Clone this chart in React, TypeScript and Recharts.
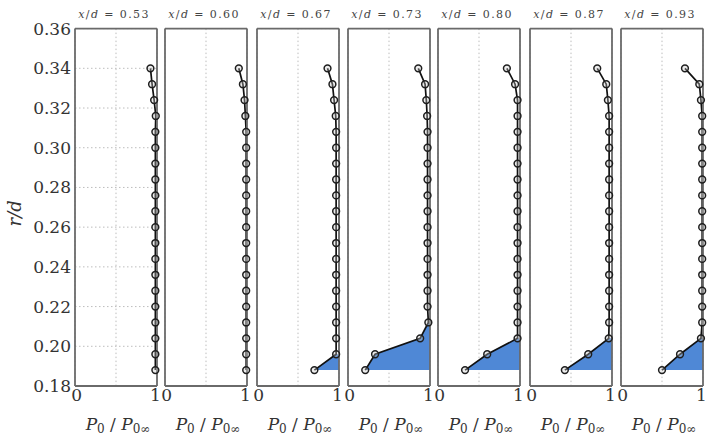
import { ComposedChart, Line, Area, XAxis, YAxis, CartesianGrid, ReferenceLine, Label } from "recharts";

// r/d stations of the probe (bottom to top)
const radius = [0.188, 0.196, 0.204, 0.212, 0.22, 0.228, 0.236, 0.244, 0.252, 0.26, 0.268, 0.276, 0.284, 0.292, 0.3, 0.308, 0.316, 0.324, 0.332, 0.34];

const stations = ["0.53", "0.60", "0.67", "0.73", "0.80", "0.87", "0.93"];

// P0/P0inf at each radius, one list per x/d station
const p053 = [0.98, 0.98, 0.98, 0.98, 0.98, 0.98, 0.98, 0.98, 0.98, 0.98, 0.98, 0.98, 0.98, 0.98, 0.98, 0.98, 0.985, 0.965, 0.94, 0.92];
const p060 = [0.99, 0.99, 0.99, 0.99, 0.99, 0.99, 0.99, 0.99, 0.99, 0.99, 0.99, 0.99, 0.99, 0.99, 0.99, 0.99, 0.98, 0.97, 0.95, 0.9];
const p067 = [0.7, 0.965, 0.965, 0.965, 0.965, 0.965, 0.965, 0.965, 0.965, 0.965, 0.965, 0.965, 0.965, 0.965, 0.965, 0.965, 0.96, 0.94, 0.92, 0.86];
const p073 = [0.21, 0.33, 0.88, 0.98, 0.97, 0.97, 0.97, 0.97, 0.97, 0.97, 0.97, 0.97, 0.97, 0.97, 0.97, 0.97, 0.965, 0.955, 0.94, 0.857];
const p080 = [0.33, 0.6, 0.97, 0.97, 0.97, 0.97, 0.97, 0.97, 0.97, 0.97, 0.97, 0.97, 0.97, 0.97, 0.97, 0.97, 0.97, 0.97, 0.94, 0.84];
const p087 = [0.425, 0.71, 0.96, 0.965, 0.965, 0.965, 0.965, 0.965, 0.965, 0.965, 0.965, 0.965, 0.965, 0.965, 0.965, 0.965, 0.965, 0.95, 0.93, 0.82];
const p093 = [0.5, 0.72, 0.975, 0.99, 0.99, 0.99, 0.99, 0.99, 0.99, 0.99, 0.99, 0.99, 0.99, 0.99, 0.99, 0.99, 0.99, 0.975, 0.955, 0.78];

const profiles = [p053, p060, p067, p073, p080, p087, p093];

// how many of the lowest points belong to the shaded deficit region
const deficitPoints = [0, 0, 2, 4, 3, 3, 3];

const rTicks = [0.18, 0.2, 0.22, 0.24, 0.26, 0.28, 0.3, 0.32, 0.34, 0.36];
const pTicks = [0, 0.5, 1];

// layout
const panelLeft = [74.7, 164.5, 257, 347.5, 438.3, 530.3, 620.7];
const PW = 82;
const TOP = 28.6;
const BOTTOM = 386;
const YW = 74;
const XH = 30;
const PADR = 20;
const H = 437;

const FONT = "'DejaVu Serif', serif";
const AXIS = "#6a6a6a";

function PTick(props: any) {
  const { x, y, payload } = props;
  const v = payload.value;
  if (v !== 0 && v !== 1) return null;
  const tx = v === 0 ? x - 3.8 : x + 3.8;
  return (
    <text x={tx} y={y + 13} textAnchor={v === 0 ? "start" : "end"} fontFamily={FONT} fontSize={17} fill="#333">
      {String(v)}
    </text>
  );
}

function PLabel(props: any) {
  const vb = props.viewBox;
  return (
    <text x={vb.x + vb.width / 2 + 2} y={vb.y + 44} textAnchor="middle" fontFamily={FONT} fontSize={17} fill="#333">
      <tspan fontStyle="italic">P</tspan>
      <tspan fontSize={12} dy={3}>0</tspan>
      <tspan dy={-3}> / </tspan>
      <tspan fontStyle="italic">P</tspan>
      <tspan fontSize={12} dy={3}>0∞</tspan>
    </text>
  );
}

function RLabel(props: any) {
  const vb = props.viewBox;
  const cx = 20;
  const cy = vb.y + vb.height / 2 + 6;
  return (
    <text x={cx} y={cy} textAnchor="middle" fontFamily={FONT} fontSize={18} fontStyle="italic" fill="#333" transform={`rotate(-90 ${cx} ${cy})`}>
      r/d
    </text>
  );
}

function makeTitle(s: string) {
  return (props: any) => {
    const vb = props.viewBox;
    return (
      <text x={vb.x + vb.width / 2 - 2} y={vb.y - 11} textAnchor="middle" fontFamily={FONT} fontSize={11} fill="#444" letterSpacing={1.4}>
        <tspan fontStyle="italic">x</tspan>/<tspan fontStyle="italic">d</tspan> = {s}
      </text>
    );
  };
}

function Panel({ i }: { i: number }) {
  const data = radius.map((r, k) => ({
    r,
    p: profiles[i][k],
    deficit: k < deficitPoints[i] ? profiles[i][k] : null,
  }));
  return (
    <div style={{ position: "absolute", left: panelLeft[i] - YW, top: 0 }}>
      <ComposedChart
        layout="vertical"
        width={YW + PW + PADR}
        height={H}
        data={data}
        margin={{ top: TOP, right: PADR, bottom: H - BOTTOM - XH, left: 0 }}
      >
        <CartesianGrid stroke="#bdbdbd" strokeDasharray="1.5 2.5" />
        <XAxis
          type="number"
          domain={[0, 1]}
          ticks={pTicks}
          height={XH}
          tickLine={false}
          tickSize={0}
          axisLine={{ stroke: AXIS, strokeWidth: 1.8 }}
          tick={PTick}
          interval={0}
        >
          <Label content={PLabel} />
        </XAxis>
        <YAxis
          type="number"
          dataKey="r"
          domain={[0.18, 0.36]}
          ticks={rTicks}
          reversed
          width={YW}
          tickLine={false}
          tickSize={0}
          tickMargin={4}
          interval={0}
          axisLine={{ stroke: AXIS, strokeWidth: 1.8 }}
          tick={i === 0 ? { fontSize: 17, fontFamily: FONT, fill: "#333" } : false}
          tickFormatter={(v: number) => v.toFixed(2)}
        >
          {i === 0 && <Label content={RLabel} />}
        </YAxis>
        <Area
          dataKey="deficit"
          type="linear"
          baseValue={1}
          fill="#4f88d6"
          fillOpacity={1}
          stroke="none"
          dot={false}
          activeDot={false}
          isAnimationActive={false}
        />
        <Line
          dataKey="p"
          type="linear"
          stroke="#111"
          strokeWidth={1.7}
          dot={{ r: 3.4, fill: "rgba(200,200,200,0.35)", stroke: "#1e1e1e", strokeWidth: 1.5 }}
          activeDot={false}
          isAnimationActive={false}
        />
        <ReferenceLine y={0.36} stroke={AXIS} strokeWidth={1.8}>
          <Label content={makeTitle(stations[i])} />
        </ReferenceLine>
        <ReferenceLine x={1} stroke={AXIS} strokeWidth={1.8} />
      </ComposedChart>
    </div>
  );
}

export default function App() {
  return (
    <div style={{ position: "absolute", left: 0, top: 0, width: 712, height: H, background: "#fff" }}>
      {stations.map((_, i) => (
        <Panel key={i} i={i} />
      ))}
    </div>
  );
}
